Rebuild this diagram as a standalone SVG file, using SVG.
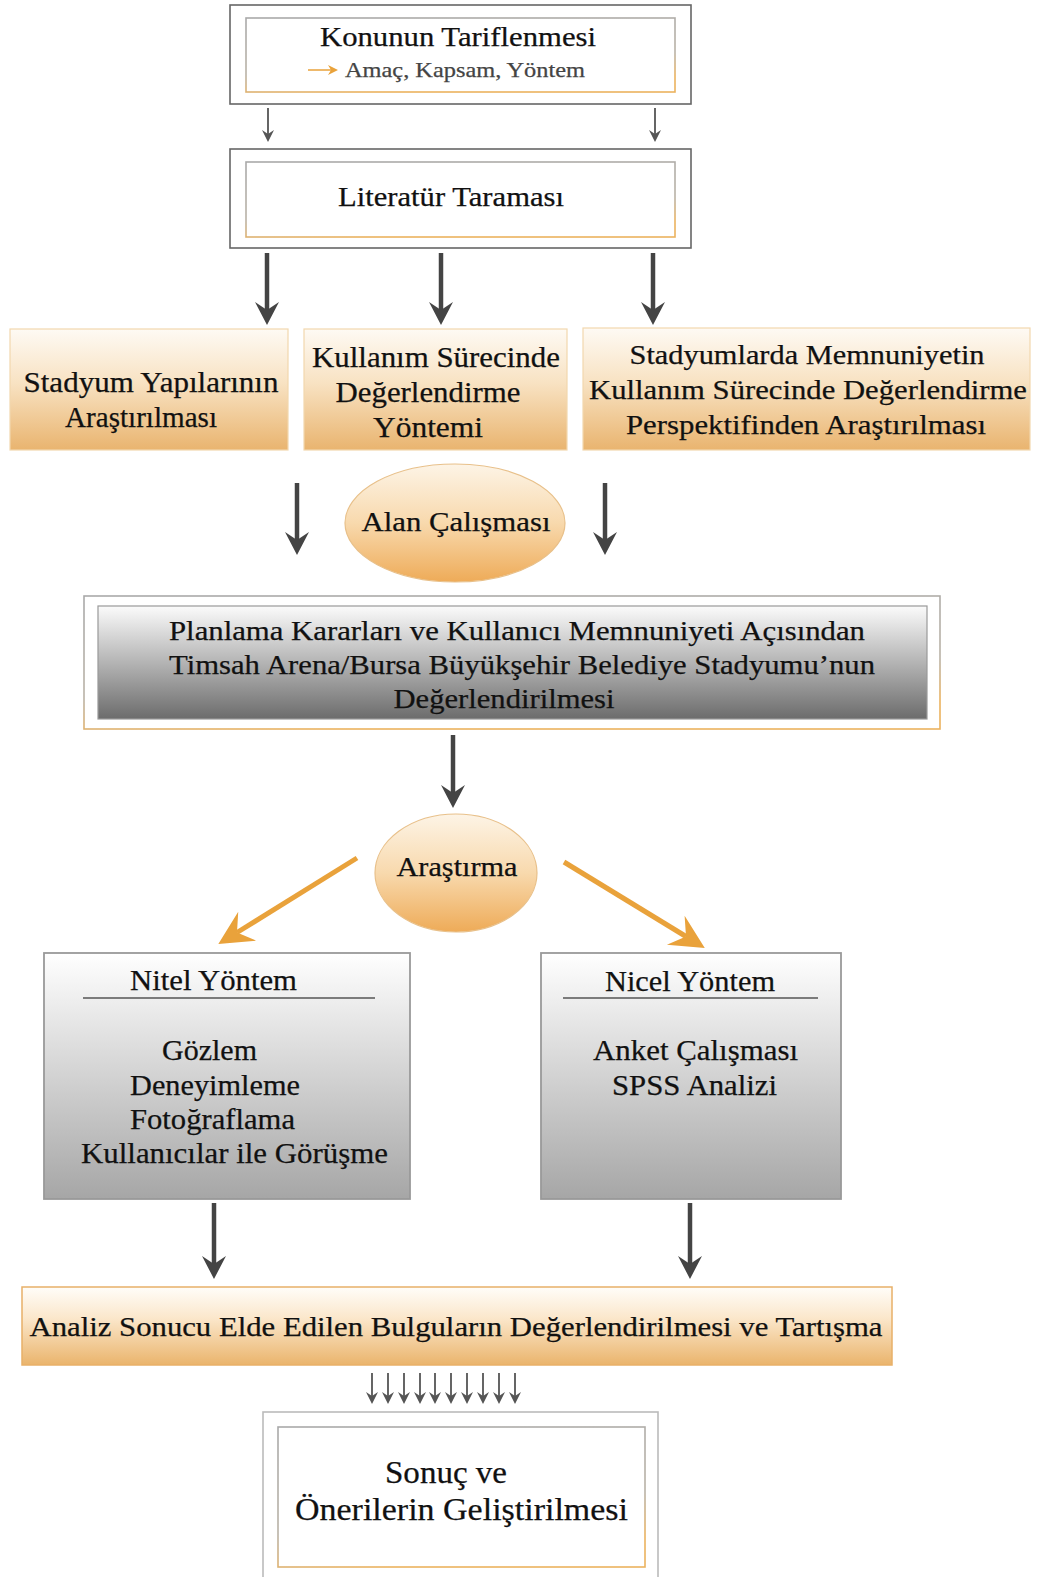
<svg xmlns="http://www.w3.org/2000/svg" width="1038" height="1577" viewBox="0 0 1038 1577">
<style>
  text { font-family: "Liberation Serif", "Times New Roman", serif; fill: #111; stroke: #111; stroke-width: 0.25; }
  .t24 { font-size: 27px; }
  .t25 { font-size: 28px; }
  .t26 { font-size: 29px; }
  .mid { text-anchor: middle; }
  .conn { fill: none; stroke: #444; stroke-width: 4.5; }
  .thin { fill: none; stroke: #555; stroke-width: 1.8; }
  .oarrow { fill: none; stroke: #e9a23b; stroke-width: 5; }
</style>
<defs>
  <linearGradient id="gOrange" x1="0" y1="0" x2="0" y2="1">
    <stop offset="0" stop-color="#fefaf4"/>
    <stop offset="0.45" stop-color="#f8e2c2"/>
    <stop offset="1" stop-color="#e9b46f"/>
  </linearGradient>
  <linearGradient id="gEll" x1="0" y1="0" x2="0" y2="1">
    <stop offset="0" stop-color="#fdf4e6"/>
    <stop offset="0.5" stop-color="#f8d9ad"/>
    <stop offset="1" stop-color="#eeab58"/>
  </linearGradient>
  <linearGradient id="gDark" x1="0" y1="0" x2="0" y2="1">
    <stop offset="0" stop-color="#fbfbfb"/>
    <stop offset="0.5" stop-color="#b4b4b4"/>
    <stop offset="1" stop-color="#6c6c6c"/>
  </linearGradient>
  <linearGradient id="gLight" x1="0" y1="0" x2="0" y2="1">
    <stop offset="0" stop-color="#ffffff"/>
    <stop offset="1" stop-color="#a6a6a6"/>
  </linearGradient>
  <linearGradient id="gAnaliz" x1="0" y1="0" x2="0" y2="1">
    <stop offset="0" stop-color="#fffdf9"/>
    <stop offset="0.4" stop-color="#fbe7cb"/>
    <stop offset="1" stop-color="#eab46c"/>
  </linearGradient>
  <linearGradient id="sGrayOrange" x1="0" y1="0" x2="0.3" y2="1">
    <stop offset="0" stop-color="#a9a9a9"/>
    <stop offset="0.7" stop-color="#b9b2a6"/>
    <stop offset="1" stop-color="#ebb25e"/>
  </linearGradient>
  <marker id="mBig" markerUnits="userSpaceOnUse" viewBox="-10 -14 28 28" markerWidth="28" markerHeight="28" refX="0" refY="0" orient="auto">
    <path d="M-8,-12 L15,0 L-8,12 L0,0 Z" fill="#444"/>
  </marker>
  <marker id="mOr" markerUnits="userSpaceOnUse" viewBox="-14 -20 40 40" markerWidth="40" markerHeight="40" refX="0" refY="0" orient="auto">
    <path d="M-12,-17 L22,0 L-12,17 L0,0 Z" fill="#e9a23b"/>
  </marker>
  <marker id="mSmall" markerUnits="userSpaceOnUse" viewBox="-6 -8 16 16" markerWidth="16" markerHeight="16" refX="0" refY="0" orient="auto">
    <path d="M-4,-6 L8,0 L-4,6 L0,0 Z" fill="#555"/>
  </marker>
  <marker id="mTiny" markerUnits="userSpaceOnUse" viewBox="-6 -8 16 16" markerWidth="16" markerHeight="16" refX="0" refY="0" orient="auto">
    <path d="M-3,-5 L7,0 L-3,5 L0,0 Z" fill="#e9a23b"/>
  </marker>
</defs>

<g id="n-konu">
  <rect x="230" y="5" width="461" height="99" fill="#fff" stroke="#666" stroke-width="1.6"/>
  <rect x="246" y="18" width="429" height="74" fill="#fff" stroke="url(#sGrayOrange)" stroke-width="1.6"/>
  <text class="t24 mid" x="458" y="46" textLength="276" lengthAdjust="spacingAndGlyphs">Konunun Tariflenmesi</text>
  <line x1="308" y1="70" x2="331" y2="70" stroke="#e9a23b" stroke-width="1.5" marker-end="url(#mTiny)"/>
  <text x="345" y="77" style="font-size:21px; fill:#444; stroke:#444" textLength="240" lengthAdjust="spacingAndGlyphs">Amaç, Kapsam, Yöntem</text>
</g>

<g id="n-literatur">
  <rect x="230" y="149" width="461" height="99" fill="#fff" stroke="#666" stroke-width="1.6"/>
  <rect x="246" y="162" width="429" height="75" fill="#fff" stroke="url(#sGrayOrange)" stroke-width="1.6"/>
  <text class="t24 mid" x="451" y="206" textLength="226" lengthAdjust="spacingAndGlyphs">Literatür Taraması</text>
</g>

<g id="n-stadyum">
  <rect x="10" y="329" width="278" height="121" fill="url(#gOrange)" stroke="#f2d7ae" stroke-width="1.2"/>
  <text class="t26 mid" x="151" y="392" textLength="255" lengthAdjust="spacingAndGlyphs">Stadyum Yapılarının</text>
  <text class="t26 mid" x="141" y="427" textLength="152" lengthAdjust="spacingAndGlyphs">Araştırılması</text>
</g>

<g id="n-kullanim">
  <rect x="304" y="329" width="263" height="121" fill="url(#gOrange)" stroke="#f2d7ae" stroke-width="1.2"/>
  <text class="t26 mid" x="436" y="367" textLength="248" lengthAdjust="spacingAndGlyphs">Kullanım Sürecinde</text>
  <text class="t26 mid" x="428" y="402" textLength="185" lengthAdjust="spacingAndGlyphs">Değerlendirme</text>
  <text class="t26 mid" x="428" y="437" textLength="110" lengthAdjust="spacingAndGlyphs">Yöntemi</text>
</g>

<g id="n-memnuniyet">
  <rect x="583" y="328" width="447" height="122" fill="url(#gOrange)" stroke="#f2d7ae" stroke-width="1.2"/>
  <text class="t25 mid" x="807" y="364" textLength="355" lengthAdjust="spacingAndGlyphs">Stadyumlarda Memnuniyetin</text>
  <text class="t25 mid" x="808" y="399" textLength="438" lengthAdjust="spacingAndGlyphs">Kullanım Sürecinde Değerlendirme</text>
  <text class="t25 mid" x="806" y="434" textLength="360" lengthAdjust="spacingAndGlyphs">Perspektifinden Araştırılması</text>
</g>

<g id="n-alan">
  <ellipse cx="455" cy="523" rx="110" ry="59" fill="url(#gEll)" stroke="#e8c08a" stroke-width="1.2"/>
  <text class="t25 mid" x="456" y="531" textLength="189" lengthAdjust="spacingAndGlyphs">Alan Çalışması</text>
</g>

<g id="n-planlama">
  <rect x="84" y="596" width="856" height="133" fill="#fff" stroke="url(#sGrayOrange)" stroke-width="1.6"/>
  <rect x="98" y="606" width="829" height="113" fill="url(#gDark)" stroke="#999" stroke-width="1.2"/>
  <text class="t25 mid" x="517" y="640" textLength="696" lengthAdjust="spacingAndGlyphs">Planlama Kararları ve Kullanıcı Memnuniyeti Açısından</text>
  <text class="t25 mid" x="522" y="674" textLength="706" lengthAdjust="spacingAndGlyphs">Timsah Arena/Bursa Büyükşehir Belediye Stadyumu’nun</text>
  <text class="t25 mid" x="504" y="708" textLength="221" lengthAdjust="spacingAndGlyphs">Değerlendirilmesi</text>
</g>

<g id="n-arastirma">
  <ellipse cx="456" cy="873" rx="81" ry="59" fill="url(#gEll)" stroke="#e8c08a" stroke-width="1.2"/>
  <text class="t25 mid" x="457" y="876" textLength="121" lengthAdjust="spacingAndGlyphs">Araştırma</text>
</g>

<g id="n-nitel">
  <rect x="44" y="953" width="366" height="246" fill="url(#gLight)" stroke="#999" stroke-width="1.8"/>
  <text class="t26" x="130" y="990" textLength="167" lengthAdjust="spacingAndGlyphs">Nitel Yöntem</text>
  <line x1="83" y1="998" x2="375" y2="998" stroke="#555" stroke-width="1.4"/>
  <text class="t26" x="162" y="1060" textLength="95" lengthAdjust="spacingAndGlyphs">Gözlem</text>
  <text class="t26" x="130" y="1095" textLength="170" lengthAdjust="spacingAndGlyphs">Deneyimleme</text>
  <text class="t26" x="130" y="1129" textLength="165" lengthAdjust="spacingAndGlyphs">Fotoğraflama</text>
  <text class="t26" x="81" y="1163" textLength="307" lengthAdjust="spacingAndGlyphs">Kullanıcılar ile Görüşme</text>
</g>

<g id="n-nicel">
  <rect x="541" y="953" width="300" height="246" fill="url(#gLight)" stroke="#999" stroke-width="1.8"/>
  <text class="t26" x="605" y="991" textLength="170" lengthAdjust="spacingAndGlyphs">Nicel Yöntem</text>
  <line x1="563" y1="998" x2="818" y2="998" stroke="#555" stroke-width="1.4"/>
  <text class="t26" x="593" y="1060" textLength="205" lengthAdjust="spacingAndGlyphs">Anket Çalışması</text>
  <text class="t26" x="612" y="1095" textLength="165" lengthAdjust="spacingAndGlyphs">SPSS Analizi</text>
</g>

<g id="n-analiz">
  <rect x="22" y="1287" width="870" height="78" fill="url(#gAnaliz)" stroke="#e8b068" stroke-width="1.5"/>
  <text class="t25 mid" x="456" y="1336" textLength="853" lengthAdjust="spacingAndGlyphs">Analiz Sonucu Elde Edilen Bulguların Değerlendirilmesi ve Tartışma</text>
</g>

<g id="n-sonuc">
  <rect x="263" y="1412" width="395" height="175" fill="#fff" stroke="#bbb" stroke-width="1.6"/>
  <rect x="278" y="1427" width="367" height="140" fill="#fff" stroke="url(#sGrayOrange)" stroke-width="1.6"/>
  <text x="385" y="1483" style="font-size:32px" textLength="122" lengthAdjust="spacingAndGlyphs">Sonuç ve</text>
  <text x="295" y="1520" style="font-size:32px" textLength="333" lengthAdjust="spacingAndGlyphs">Önerilerin Geliştirilmesi</text>
</g>

<g id="connectors">
  <line class="thin" x1="268" y1="108" x2="268" y2="134" marker-end="url(#mSmall)"/>
  <line class="thin" x1="655" y1="108" x2="655" y2="134" marker-end="url(#mSmall)"/>
  <line class="conn" x1="267" y1="253" x2="267" y2="310" marker-end="url(#mBig)"/>
  <line class="conn" x1="441" y1="253" x2="441" y2="310" marker-end="url(#mBig)"/>
  <line class="conn" x1="653" y1="253" x2="653" y2="310" marker-end="url(#mBig)"/>
  <line class="conn" x1="297" y1="483" x2="297" y2="540" marker-end="url(#mBig)"/>
  <line class="conn" x1="605" y1="483" x2="605" y2="540" marker-end="url(#mBig)"/>
  <line class="conn" x1="453" y1="735" x2="453" y2="793" marker-end="url(#mBig)"/>
  <line class="oarrow" x1="357" y1="858" x2="237" y2="932.5" marker-end="url(#mOr)"/>
  <line class="oarrow" x1="564" y1="862" x2="686" y2="936.5" marker-end="url(#mOr)"/>
  <line class="conn" x1="214" y1="1203" x2="214" y2="1264" marker-end="url(#mBig)"/>
  <line class="conn" x1="690" y1="1203" x2="690" y2="1264" marker-end="url(#mBig)"/>
  <line class="thin" x1="372" y1="1373" x2="372" y2="1396" marker-end="url(#mSmall)"/>
  <line class="thin" x1="388" y1="1373" x2="388" y2="1396" marker-end="url(#mSmall)"/>
  <line class="thin" x1="404" y1="1373" x2="404" y2="1396" marker-end="url(#mSmall)"/>
  <line class="thin" x1="420" y1="1373" x2="420" y2="1396" marker-end="url(#mSmall)"/>
  <line class="thin" x1="435" y1="1373" x2="435" y2="1396" marker-end="url(#mSmall)"/>
  <line class="thin" x1="451" y1="1373" x2="451" y2="1396" marker-end="url(#mSmall)"/>
  <line class="thin" x1="467" y1="1373" x2="467" y2="1396" marker-end="url(#mSmall)"/>
  <line class="thin" x1="483" y1="1373" x2="483" y2="1396" marker-end="url(#mSmall)"/>
  <line class="thin" x1="499" y1="1373" x2="499" y2="1396" marker-end="url(#mSmall)"/>
  <line class="thin" x1="515" y1="1373" x2="515" y2="1396" marker-end="url(#mSmall)"/>
</g>
</svg>
